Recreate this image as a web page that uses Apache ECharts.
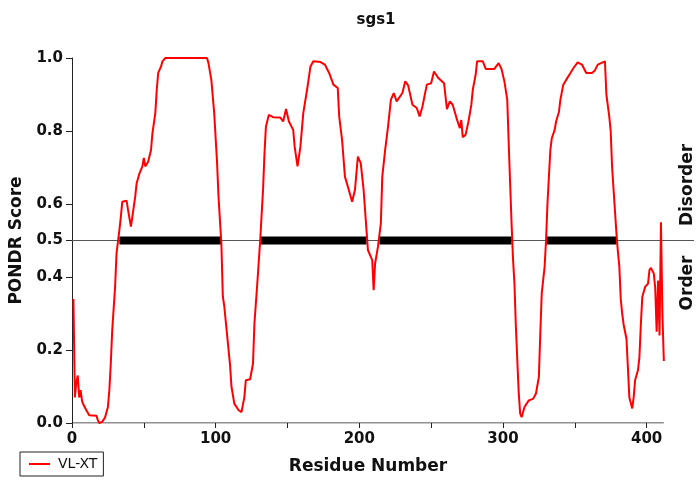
<!DOCTYPE html>
<html>
<head>
<meta charset="utf-8">
<script src="https://cdn.jsdelivr.net/npm/echarts@6/dist/echarts.min.js"></script>
<style>html,body{margin:0;padding:0;background:#fff}#c{width:697px;height:483px}</style>
</head>
<body>
<div id="c"></div>
<script>
// ---- data ----
const residues = [1,2,3,4,5,6,7,8,10,12,17,18,19,21,23,25,26,27,28,30,31,33,34,35,38,39,41,42,44,45,47,49,50,51,53,55,56,58,59,60,62,63,65,94,95,97,99,101,102,104,105,106,108,110,111,113,116,118,120,121,124,126,127,129,131,133,134,135,137,140,145,147,149,151,154,155,157,159,161,164,166,168,173,176,179,182,185,186,188,190,192,195,197,199,201,203,205,206,209,210,211,213,215,216,218,220,222,224,226,230,232,234,237,240,242,244,247,250,252,255,259,261,263,265,267,268,270,271,272,274,276,278,279,281,282,286,288,294,297,299,301,303,304,305,306,307,308,309,310,311,312,313,315,318,321,323,325,326,327,329,330,331,332,333,334,336,337,339,340,342,344,347,349,352,355,358,362,364,366,371,372,374,375,376,377,378,379,380,381,382,383,384,386,387,388,390,391,392,394,395,396,397,399,401,402,403,405,406,407,408,409,410,411,412];
const scores = [0.34,0.07,0.11,0.13,0.07,0.09,0.06,0.05,0.035,0.021,0.02,0.008,0.0,0.003,0.015,0.044,0.09,0.163,0.254,0.373,0.465,0.529,0.565,0.606,0.609,0.584,0.538,0.565,0.62,0.657,0.684,0.703,0.726,0.703,0.716,0.748,0.794,0.849,0.913,0.959,0.977,0.991,1.0,1.0,0.986,0.94,0.849,0.712,0.62,0.49,0.346,0.32,0.24,0.16,0.1,0.053,0.035,0.03,0.071,0.117,0.12,0.163,0.273,0.383,0.5,0.64,0.739,0.812,0.844,0.838,0.837,0.826,0.86,0.826,0.803,0.757,0.703,0.757,0.849,0.922,0.977,0.991,0.989,0.982,0.959,0.927,0.918,0.84,0.776,0.675,0.648,0.606,0.639,0.73,0.712,0.639,0.529,0.474,0.446,0.364,0.437,0.483,0.547,0.675,0.748,0.812,0.886,0.904,0.881,0.904,0.936,0.925,0.872,0.863,0.84,0.868,0.927,0.931,0.963,0.945,0.931,0.86,0.881,0.872,0.845,0.831,0.808,0.83,0.783,0.79,0.826,0.872,0.913,0.954,0.991,0.991,0.97,0.97,0.986,0.97,0.936,0.886,0.767,0.657,0.547,0.45,0.383,0.264,0.172,0.081,0.026,0.016,0.044,0.062,0.066,0.081,0.126,0.245,0.355,0.428,0.5,0.602,0.675,0.748,0.78,0.803,0.826,0.853,0.886,0.927,0.94,0.959,0.972,0.988,0.982,0.959,0.959,0.966,0.982,0.991,0.9,0.84,0.8,0.7,0.64,0.58,0.52,0.47,0.43,0.34,0.3,0.27,0.23,0.15,0.07,0.04,0.07,0.117,0.145,0.18,0.27,0.346,0.373,0.382,0.419,0.425,0.41,0.37,0.25,0.39,0.24,0.55,0.3,0.17];
const disorderStart = [33, 131, 214, 330];
const disorderEnd = [104, 205, 306, 379];
const threshold = 0.5;
const lastResidue = 412;
const xMax = 433;
const yTicks = [0.0, 0.2, 0.4, 0.5, 0.6, 0.8, 1.0];
const xTicks = [0, 50, 100, 150, 200, 250, 300, 350, 400];
const xLabels = [0, 100, 200, 300, 400];

// ---- build ----
const curve = residues.map((r, i) => [r, scores[i]]);
const bars = [];
disorderStart.forEach((s, i) => {
  bars.push([s, threshold], [disorderEnd[i], threshold], [disorderEnd[i], '-']);
});
const F = 'DejaVu Sans';
const chart = echarts.init(document.getElementById('c'), null, {renderer: 'canvas'});
chart.setOption({
  animation: false,
  backgroundColor: '#fff',
  title: {
    text: 'sgs1', left: 371, top: 8, textAlign: 'center',
    textStyle: {fontFamily: F, fontWeight: 'bold', fontSize: 15, color: '#111'}
  },
  legend: {
    data: [{name: 'VL-XT', icon: 'rect'}], left: 20, top: 452, orient: 'horizontal',
    borderColor: '#222', borderWidth: 1, borderRadius: 0, padding: [5, 6, 5, 9],
    itemWidth: 21, itemHeight: 2,
    textStyle: {fontFamily: F, fontSize: 14, color: '#111', padding: [0, 0, 0, 3]}
  },
  grid: {left: 72, right: 3, top: 58, bottom: 60, containLabel: false},
  xAxis: {
    type: 'value', min: 0, max: xMax,
    axisLine: {show: false},
    axisTick: {show: true, length: 5, customValues: xTicks, lineStyle: {color: '#222'}},
    axisLabel: {customValues: xLabels, margin: 9, fontFamily: F, fontWeight: 'bold', fontSize: 15, color: '#111'},
    splitLine: {show: false}
  },
  yAxis: {
    type: 'value', min: 0, max: 1,
    name: 'PONDR Score', nameLocation: 'middle', nameGap: 45, nameRotate: 90,
    nameTextStyle: {fontFamily: F, fontWeight: 'bold', fontSize: 17, color: '#111'},
    axisLine: {show: true, lineStyle: {color: '#222', width: 1}},
    axisTick: {show: true, length: 6, customValues: yTicks, lineStyle: {color: '#222'}},
    axisLabel: {customValues: yTicks, margin: 9, fontFamily: F, fontWeight: 'bold', fontSize: 15, color: '#111',
      formatter: v => Number(v).toFixed(1)},
    splitLine: {show: false}
  },
  graphic: [
    {type: 'text', style: {text: 'Residue Number', x: 368, y: 467, align: 'center', verticalAlign: 'middle', font: 'bold 17px "DejaVu Sans"', fill: '#111'}},
    {type: 'text', x: 688, y: 185, rotation: Math.PI / 2, style: {text: 'Disorder', align: 'center', verticalAlign: 'middle', font: 'bold 17px "DejaVu Sans"', fill: '#111'}},
    {type: 'text', x: 688, y: 283, rotation: Math.PI / 2, style: {text: 'Order', align: 'center', verticalAlign: 'middle', font: 'bold 17px "DejaVu Sans"', fill: '#111'}}
  ],
  series: [
    {
      name: 'axis', type: 'line', data: [[0, 0], [lastResidue, 0]], symbol: 'none', silent: true, z: 1,
      lineStyle: {color: '#222', width: 1}
    },
    {
      name: 'threshold', type: 'line', data: [[0, threshold], [xMax, threshold]], symbol: 'none', silent: true, z: 1,
      lineStyle: {color: '#555', width: 1}
    },
    {
      name: 'disorder', type: 'line', data: bars, symbol: 'none', silent: true, z: 2, connectNulls: false,
      lineStyle: {color: '#000', width: 8, cap: 'butt'}
    },
    {
      name: 'VL-XT', type: 'line', data: curve, symbol: 'none', z: 3,
      lineStyle: {color: '#ff0000', width: 2}, itemStyle: {color: '#ff0000'}
    }
  ]
});
</script>
</body>
</html>
